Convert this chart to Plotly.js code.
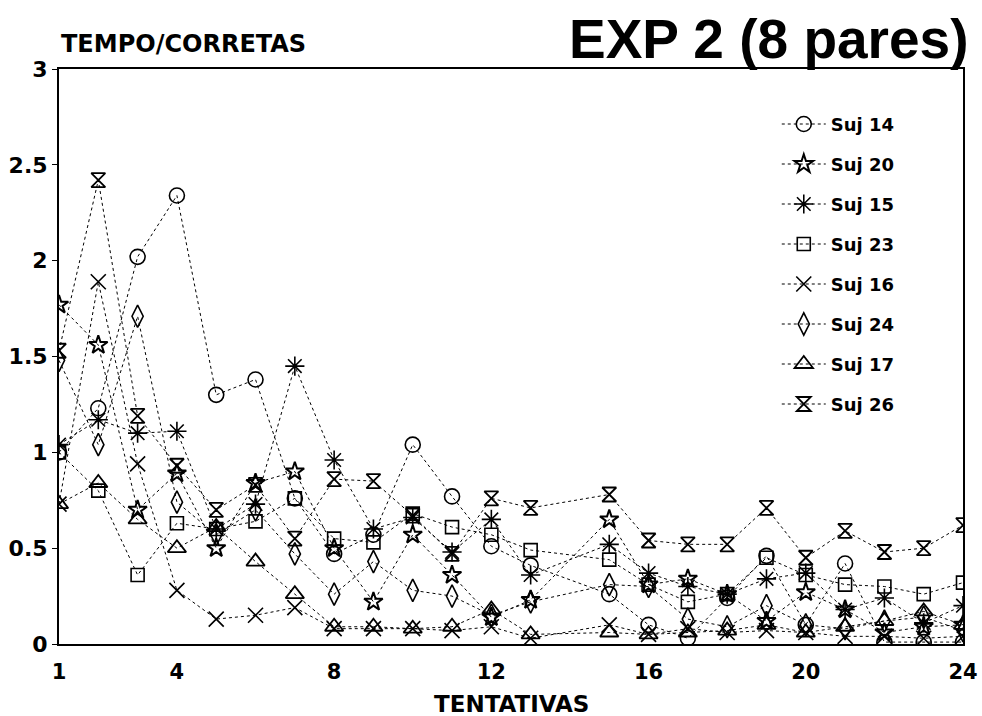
<!DOCTYPE html>
<html><head><meta charset="utf-8">
<script src="https://cdn.plot.ly/plotly-3.0.1.min.js"></script>
<style>html,body{margin:0;padding:0;background:#fff}#chart{width:982px;height:716px}</style>
</head><body><div id="chart"></div>
<script>
// Trials (trial 14 has no data in the reference)
const trials = [1,2,3,4,5,6,7,8,9,10,11,12,13,15,16,17,18,19,20,21,22,23,24];
const xTicks = [1,4,8,12,16,20,24];
const yTicks = [0,0.5,1,1.5,2,2.5,3];
const yTickLabels = ['0','0.5','1','1.5','2','2.5','3'];

const suj14 = [1.00,1.23,2.02,2.34,1.30,1.38,0.76,0.47,0.57,1.04,0.77,0.51,0.41,0.26,0.10,0.03,0.24,0.46,0.10,0.42,0.01,0.01,0.01];
const suj20 = [1.77,1.56,0.70,0.89,0.50,0.84,0.90,0.50,0.22,0.57,0.36,0.14,0.23,0.65,0.31,0.34,0.26,0.12,0.27,0.18,0.06,0.09,0.10];
const suj15 = [1.04,1.17,1.10,1.11,0.60,0.73,1.45,0.96,0.60,0.66,0.48,0.65,0.36,0.52,0.37,0.30,0.26,0.34,0.37,0.18,0.24,0.11,0.20];
const suj23 = [1.00,0.80,0.36,0.63,0.60,0.64,0.76,0.55,0.53,0.68,0.61,0.57,0.49,0.44,0.31,0.22,0.26,0.45,0.36,0.31,0.30,0.26,0.32];
const suj16 = [0.73,1.89,0.94,0.28,0.13,0.15,0.19,0.08,0.08,0.08,0.07,0.09,0.03,0.10,0.05,0.08,0.06,0.07,0.06,0.04,0.04,0.03,0.04];
const suj24 = [1.48,1.04,1.71,0.74,0.57,0.70,0.47,0.26,0.43,0.28,0.25,0.15,0.22,0.31,0.30,0.13,0.09,0.20,0.10,0.08,0.12,0.14,0.07];
const suj17 = [0.73,0.84,0.65,0.50,0.61,0.43,0.26,0.09,0.09,0.08,0.09,0.18,0.05,0.06,0.05,0.06,0.07,0.10,0.06,0.09,0.12,0.17,0.10];
const suj26 = [1.53,2.42,1.19,0.93,0.70,0.83,0.55,0.86,0.85,0.67,0.47,0.76,0.71,0.78,0.54,0.52,0.52,0.71,0.45,0.59,0.48,0.50,0.62];

const seriesNames = ['Suj 14','Suj 20','Suj 15','Suj 23','Suj 16','Suj 24','Suj 17','Suj 26'];
const seriesValues = [suj14,suj20,suj15,suj23,suj16,suj24,suj17,suj26];
const symbols = ['circle-open','star-open','asterisk-open','square-open','x-thin-open','diamond-tall-open','triangle-up-open','hourglass-open'];
const sizes = [15,14,16,13,15,16,16,14];
const widths = [1.6,2,1.6,1.6,1.6,1.6,1.8,1.8];

const BOLD = 'DejaVu Sans, Liberation Sans, sans-serif';

const traces = seriesNames.map((n,i)=>({
  x: trials, y: seriesValues[i], name: '<b>'+n+'</b>', type:'scatter', mode:'lines+markers',
  legendgroup: 'g'+i,
  line:{color:'#000', width:1, dash:'dot'},
  marker:{symbol:symbols[i], size:sizes[i], color:'#000', line:{color:'#000', width:widths[i]}}
}));

const layout = {
  width:982, height:716,
  margin:{l:59, r:19, t:69, b:72},
  paper_bgcolor:'#fff', plot_bgcolor:'#fff',
  font:{family:BOLD, color:'#000'},
  showlegend:true,
  legend:{x:0.794, y:0.936, xanchor:'left', yanchor:'top', bgcolor:'rgba(0,0,0,0)',
    font:{size:18, family:BOLD, color:'#000'},
    tracegroupgap:13.6, itemwidth:44},
  xaxis:{range:[1,24], tickvals:xTicks, ticktext:xTicks.map(v=>'<b>'+v+'</b>'),
    showgrid:false, zeroline:false, showline:true, linecolor:'#000', linewidth:2, mirror:true,
    ticks:'outside', ticklen:8, tickcolor:'rgba(0,0,0,0)', tickfont:{size:21, family:BOLD}},
  yaxis:{range:[0,3], tickvals:yTicks, ticktext:yTickLabels.map(v=>'<b>'+v+'</b>'),
    showgrid:false, zeroline:false, showline:true, linecolor:'#000', linewidth:2, mirror:true,
    ticks:'outside', ticklen:5, tickcolor:'#000', tickfont:{size:22, family:BOLD}},
  annotations:[
    {text:'<b>TEMPO/CORRETAS</b>', xref:'paper', yref:'paper', x:0.0, y:1.015, xanchor:'left', yanchor:'bottom', showarrow:false, font:{size:24, family:BOLD}},
    {text:'<b>EXP 2 (8 pares)</b>', xref:'paper', yref:'paper', x:1.008, y:0.994, xanchor:'right', yanchor:'bottom', showarrow:false, font:{size:55, family:'Liberation Sans, Arial, sans-serif'}},
    {text:'<b>TENTATIVAS</b>', xref:'paper', yref:'paper', x:0.5, y:-0.104, xanchor:'center', yanchor:'middle', showarrow:false, font:{size:23, family:BOLD}}
  ]
};
Plotly.newPlot('chart', traces, layout, {staticPlot:true});
</script></body></html>
